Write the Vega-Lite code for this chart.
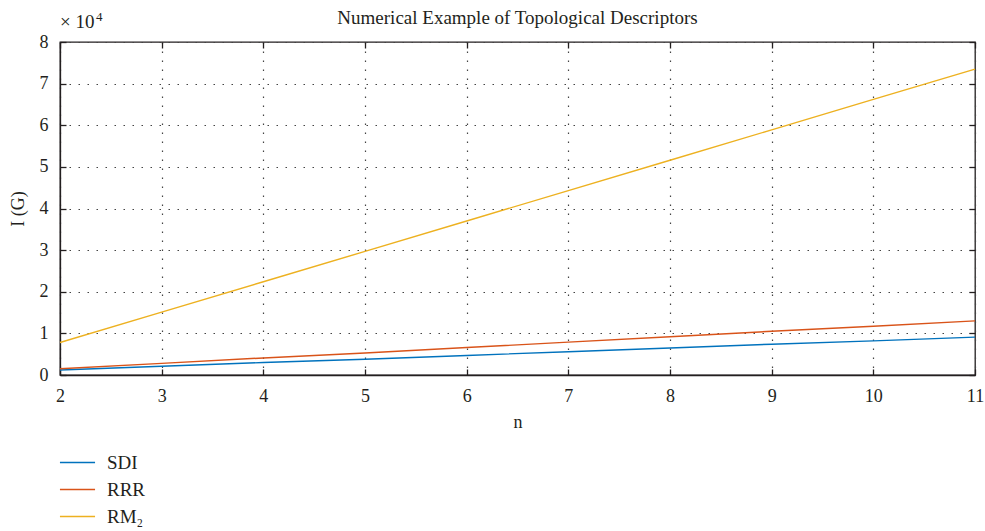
{
  "$schema": "https://vega.github.io/schema/vega-lite/v6.json",
  "width": 915,
  "height": 333,
  "autosize": "none",
  "padding": {"left": 60, "top": 42, "right": 10, "bottom": 156},
  "title": {"text": "Numerical Example of Topological Descriptors", "font": "Liberation Serif", "fontSize": 19, "fontWeight": "normal", "color": "#231f20", "offset": -17, "frame": "group"},
  "config": {
    "view": {"stroke": "#231f20", "strokeWidth": 1.3},
    "font": "Liberation Serif",
    "axis": {"labelFont": "Liberation Serif", "titleFont": "Liberation Serif", "labelFontSize": 18, "titleFontSize": 18, "titleFontWeight": "normal", "labelColor": "#231f20", "titleColor": "#231f20", "domainColor": "#231f20", "tickColor": "#231f20", "tickSize": -6, "tickWidth": 1.3, "domainWidth": 1.3, "labelPadding": 18, "labelFlush": false, "grid": true, "gridColor": "#444", "gridDash": [1.5, 7.5], "gridWidth": 1.2}
  },
  "resolve": {"axis": {"x": "independent", "y": "independent"}},
  "layer": [
    {
      "data": {"values": [
        {"n": 2, "v": 1200, "s": "SDI"}, {"n": 3, "v": 2100, "s": "SDI"}, {"n": 4, "v": 3000, "s": "SDI"}, {"n": 5, "v": 3800, "s": "SDI"}, {"n": 6, "v": 4700, "s": "SDI"}, {"n": 7, "v": 5600, "s": "SDI"}, {"n": 8, "v": 6500, "s": "SDI"}, {"n": 9, "v": 7400, "s": "SDI"}, {"n": 10, "v": 8200, "s": "SDI"}, {"n": 11, "v": 9100, "s": "SDI"},
        {"n": 2, "v": 1500, "s": "RRR"}, {"n": 3, "v": 2800, "s": "RRR"}, {"n": 4, "v": 4100, "s": "RRR"}, {"n": 5, "v": 5300, "s": "RRR"}, {"n": 6, "v": 6600, "s": "RRR"}, {"n": 7, "v": 7900, "s": "RRR"}, {"n": 8, "v": 9200, "s": "RRR"}, {"n": 9, "v": 10500, "s": "RRR"}, {"n": 10, "v": 11700, "s": "RRR"}, {"n": 11, "v": 13000, "s": "RRR"},
        {"n": 2, "v": 7800, "s": "RM₂"}, {"n": 3, "v": 15100, "s": "RM₂"}, {"n": 4, "v": 22400, "s": "RM₂"}, {"n": 5, "v": 29700, "s": "RM₂"}, {"n": 6, "v": 37000, "s": "RM₂"}, {"n": 7, "v": 44300, "s": "RM₂"}, {"n": 8, "v": 51600, "s": "RM₂"}, {"n": 9, "v": 58900, "s": "RM₂"}, {"n": 10, "v": 66200, "s": "RM₂"}, {"n": 11, "v": 73500, "s": "RM₂"}
      ]},
      "mark": {"type": "line", "strokeWidth": 1.4},
      "encoding": {
        "x": {"field": "n", "type": "quantitative", "scale": {"domain": [2, 11], "nice": false}, "axis": {"orient": "bottom", "values": [2,3,4,5,6,7,8,9,10,11], "format": "d", "title": "n", "titlePadding": 8}},
        "y": {"field": "v", "type": "quantitative", "scale": {"domain": [0, 80000], "nice": false}, "axis": {"orient": "left", "values": [0,10000,20000,30000,40000,50000,60000,70000,80000], "labelExpr": "datum.value/10000", "title": "I (G)", "titlePadding": 12}},
        "color": {"field": "s", "type": "nominal", "sort": ["SDI", "RRR", "RM₂"], "scale": {"domain": ["SDI", "RRR", "RM₂"], "range": ["#0072BD", "#D95319", "#EDB120"]},
          "legend": {"title": null, "orient": "none", "legendX": 3, "legendY": 406, "padding": 0, "symbolType": "M-1.3,0H1.3", "symbolSize": 729, "symbolStrokeWidth": 1.4, "labelFont": "Liberation Serif", "labelFontSize": 19, "labelColor": "#231f20", "rowPadding": 2, "labelOffset": 15}}
      }
    },
    {
      "data": {"values": [{"t": "× 10"}]},
      "mark": {"type": "text", "align": "left", "baseline": "alphabetic", "dy": -14, "dx": 0, "fontSize": 19, "font": "Liberation Serif", "color": "#231f20"},
      "encoding": {
        "x": {"datum": 2, "axis": {"orient": "top", "values": [2,3,4,5,6,7,8,9,10,11], "labels": false, "title": null, "grid": false, "domain": false}},
        "y": {"datum": 80000, "axis": {"orient": "right", "values": [0,10000,20000,30000,40000,50000,60000,70000,80000], "labels": false, "title": null, "grid": false, "domain": false}},
        "text": {"field": "t"}
      }
    },
    {
      "data": {"values": [{"t": "4"}]},
      "mark": {"type": "text", "align": "left", "baseline": "alphabetic", "dy": -21, "dx": 36, "fontSize": 13, "font": "Liberation Serif", "color": "#231f20"},
      "encoding": {
        "x": {"datum": 2, "axis": null},
        "y": {"datum": 80000, "axis": null},
        "text": {"field": "t"}
      }
    }
  ]
}
